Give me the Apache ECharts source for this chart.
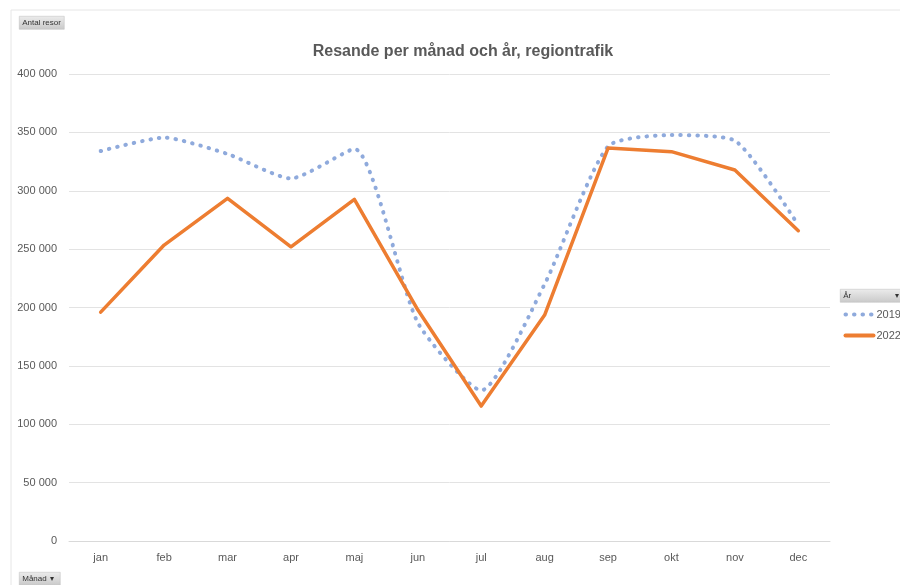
<!DOCTYPE html>
<html><head><meta charset="utf-8">
<script src="https://cdn.jsdelivr.net/npm/echarts@6/dist/echarts.min.js"></script>
<style>html,body{margin:0;padding:0;background:#fff}#c{width:900px;height:585px}</style>
</head><body><div id="c"></div>
<script>
const months = ['jan','feb','mar','apr','maj','jun','jul','aug','sep','okt','nov','dec'];
const yr2019 = [334000,345500,331500,310500,335800,187000,129000,220000,338000,347700,342900,270500];
const yr2022 = [196000,253500,293500,252000,292600,198000,115600,193500,336600,333500,317800,265800];
const yTicks = [0,50000,100000,150000,200000,250000,300000,350000,400000];
const seriesNames = ['2019','2022'];

const font = 'Liberation Sans, Arial, sans-serif';
const fmt = v => String(v).replace(/\B(?=(\d{3})+(?!\d))/g, ' ');
const btnFill = new echarts.graphic.LinearGradient(0,0,0,1,[{offset:0,color:'#ececec'},{offset:1,color:'#c9c9c9'}]);
const c19 = '#8faadc', c22 = '#ed7d31';

const chart = echarts.init(document.getElementById('c'));
chart.setOption({
  animation:false,
  backgroundColor:'#fff',
  title:{text:'Resande per månad och år, regiontrafik',left:458,textAlign:'center',top:39,
    textStyle:{fontFamily:font,fontSize:16,fontWeight:'bold',color:'#595959'}},
  grid:{left:69,right:70,top:74,bottom:44},
  xAxis:{type:'category',data:months,boundaryGap:true,
    axisLine:{show:true,lineStyle:{color:'#d9d9d9'}},axisTick:{show:false},
    axisLabel:{color:'#595959',fontFamily:font,fontSize:11,margin:11}},
  yAxis:{type:'value',min:yTicks[0],max:yTicks[yTicks.length-1],interval:yTicks[1]-yTicks[0],
    axisLine:{show:false},axisTick:{show:false},
    splitLine:{lineStyle:{color:'#e3e3e3',width:1}},
    axisLabel:{color:'#595959',fontFamily:font,fontSize:11,margin:12,formatter:fmt}},
  series:[
    {name:seriesNames[0],type:'line',data:yr2019,symbol:'none',smooth:0.2,
      lineStyle:{color:c19,width:4,type:[0.5,8],cap:'round'},itemStyle:{color:c19}},
    {name:seriesNames[1],type:'line',data:yr2022,symbol:'none',
      lineStyle:{color:c22,width:3.5,cap:'round',join:'round'},itemStyle:{color:c22}}
  ],
  graphic:[
    {type:'line',shape:{x1:11,y1:10,x2:900,y2:10},style:{stroke:'#e6e6e6',lineWidth:1}},
    {type:'line',shape:{x1:11,y1:10,x2:11,y2:585},style:{stroke:'#e6e6e6',lineWidth:1}},
    {type:'group',left:19,top:16,children:[
      {type:'rect',shape:{x:0,y:0,width:45,height:13},style:{fill:btnFill,stroke:'#bdbdbd',lineWidth:0.5}},
      {type:'text',style:{x:3,y:7,text:'Antal resor',fontSize:8,fontFamily:font,fill:'#333',verticalAlign:'middle'}}]},
    {type:'group',left:19,top:572,children:[
      {type:'rect',shape:{x:0,y:0,width:41,height:13},style:{fill:btnFill,stroke:'#bdbdbd',lineWidth:0.5}},
      {type:'text',style:{x:3,y:7,text:'Månad',fontSize:8,fontFamily:font,fill:'#333',verticalAlign:'middle'}},
      {type:'text',style:{x:31,y:7,text:'▾',fontSize:8,fontFamily:font,fill:'#333',verticalAlign:'middle'}}]},
    {type:'group',left:840,top:289,children:[
      {type:'rect',shape:{x:0,y:0,width:62,height:13},style:{fill:btnFill,stroke:'#bdbdbd',lineWidth:0.5}},
      {type:'text',style:{x:3,y:7,text:'År',fontSize:8,fontFamily:font,fill:'#333',verticalAlign:'middle'}},
      {type:'text',style:{x:55,y:7,text:'▾',fontSize:8,fontFamily:font,fill:'#333',verticalAlign:'middle'}}]},
    {type:'group',left:843,top:309,children:[
      {type:'line',shape:{x1:2,y1:4,x2:30,y2:4},style:{stroke:c19,lineWidth:4,lineDash:[0.5,8],lineCap:'round'}},
      {type:'text',style:{x:33,y:4,text:seriesNames[0],fontSize:11,fontFamily:font,fill:'#595959',verticalAlign:'middle'}},
      {type:'line',shape:{x1:2,y1:25,x2:30,y2:25},style:{stroke:c22,lineWidth:4,lineCap:'round'}},
      {type:'text',style:{x:33,y:25,text:seriesNames[1],fontSize:11,fontFamily:font,fill:'#595959',verticalAlign:'middle'}}]}
  ]
});
</script></body></html>
